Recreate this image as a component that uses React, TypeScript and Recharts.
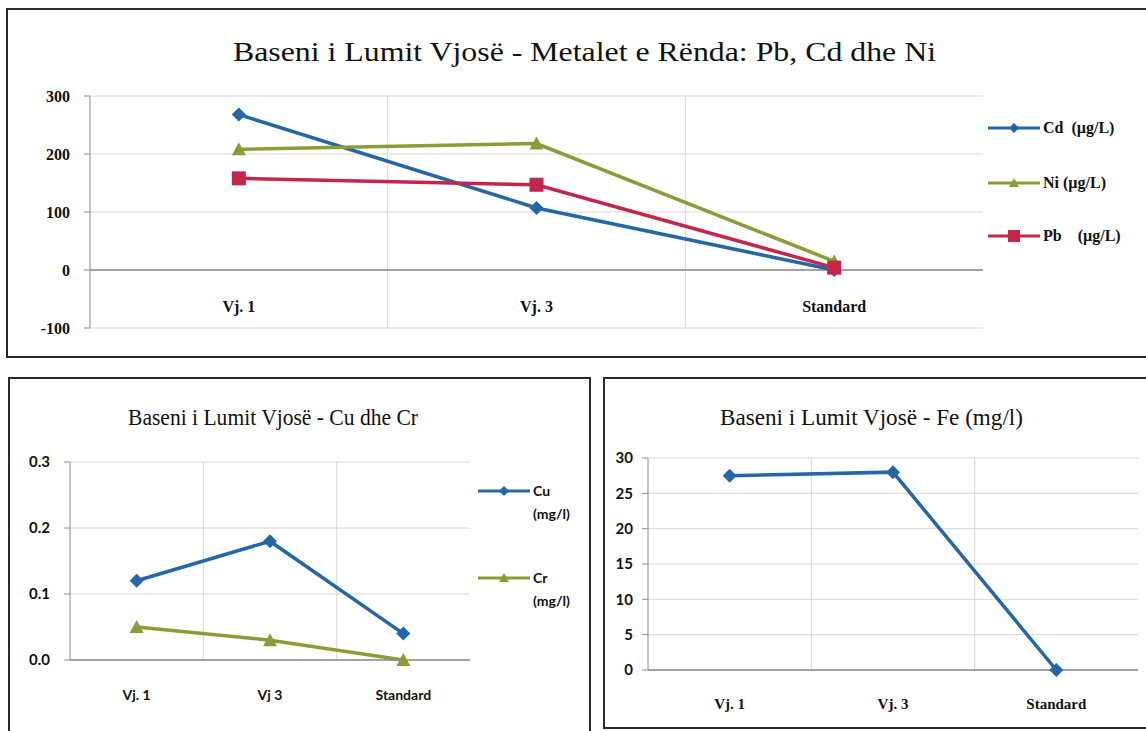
import React from 'react';
import { LineChart, Line, XAxis, YAxis, CartesianGrid, ReferenceLine } from 'recharts';

// heavy metals (µg/L)
const stations = ['Vj. 1', 'Vj. 3', 'Standard'];
const cdValues = [268, 107, 0];
const niValues = [208, 218, 15];
const pbValues = [158, 147, 4];
const metalTicks = [-100, 0, 100, 200, 300];

// Cu / Cr (mg/l)
const cuStations = ['Vj. 1', 'Vj 3', 'Standard'];
const cuValues = [0.12, 0.18, 0.04];
const crValues = [0.05, 0.03, 0.0];
const cuTicks = [0, 0.1, 0.2, 0.3];

// Fe (mg/l)
const feStations = ['Vj. 1', 'Vj. 3', 'Standard'];
const feValues = [27.5, 28, 0];
const feTicks = [0, 5, 10, 15, 20, 25, 30];

const BLUE = '#2466a6';
const GREEN = '#8a9c36';
const RED = '#c2274b';
const GRID = '#d6d6d6';
const AXIS = '#8a8a8a';
const SERIF = '"Liberation Serif", "Times New Roman", serif';
const SANS = 'Lato, "Open Sans", sans-serif';

const metalData = stations.map((s, i) => ({ name: s, cd: cdValues[i], ni: niValues[i], pb: pbValues[i] }));
const cuData = cuStations.map((s, i) => ({ name: s, cu: cuValues[i], cr: crValues[i] }));
const feData = feStations.map((s, i) => ({ name: s, fe: feValues[i] }));

const diamond = (color: string, r = 6) => (props: any) => {
  const { cx, cy, key } = props;
  if (cx == null || cy == null) return null;
  return <path key={key} d={`M${cx},${cy - r}L${cx + r},${cy}L${cx},${cy + r}L${cx - r},${cy}Z`} fill={color} />;
};
const triangle = (color: string, r = 6) => (props: any) => {
  const { cx, cy, key } = props;
  if (cx == null || cy == null) return null;
  return <path key={key} d={`M${cx},${cy - r}L${cx + r},${cy + r - 1}L${cx - r},${cy + r - 1}Z`} fill={color} />;
};
const square = (color: string, r = 6) => (props: any) => {
  const { cx, cy, key } = props;
  if (cx == null || cy == null) return null;
  return <rect key={key} x={cx - r} y={cy - r} width={r * 2} height={r * 2} fill={color} />;
};

const betweenCategories = ({ offset }: any) => [offset.left + offset.width / 3, offset.left + (2 * offset.width) / 3];

const xTick = (dy: number, font: string, size: number) => (props: any) => {
  const { x, y, payload } = props;
  return (
    <text x={x} y={y + dy} textAnchor="middle" fontFamily={font} fontWeight="bold" fontSize={size} fill="#111">
      {payload.value}
    </text>
  );
};

const panel = (left: number, top: number, width: number, height: number): React.CSSProperties => ({
  position: 'absolute',
  left,
  top,
  width,
  height,
  border: '2px solid #2a2a2a',
  boxSizing: 'border-box',
});

function LegendItem({ x, y, color, marker, font, lines }: any) {
  const m = marker === 'diamond' ? diamond(color, 5) : marker === 'triangle' ? triangle(color, 5) : square(color, 6);
  return (
    <g>
      <line x1={x} y1={y} x2={x + 52} y2={y} stroke={color} strokeWidth={3} />
      {m({ cx: x + 26, cy: y })}
      {lines.map((t: string, i: number) => (
        <text key={i} x={x + 55} y={y + 5 + i * 23} fontFamily={font} fontWeight="bold" fontSize={16} fill="#111" style={{ whiteSpace: 'pre' }}>
          {t}
        </text>
      ))}
    </g>
  );
}

export default function App() {
  return (
    <div style={{ position: 'absolute', left: 0, top: 0, width: 1146, height: 731, background: '#fff', overflow: 'hidden' }}>
      <div style={panel(6, 8, 1150, 350)} />
      <div style={panel(8, 377, 583, 360)} />
      <div style={panel(603, 377, 560, 352)} />

      {/* top: Pb, Cd, Ni */}
      <div style={{ position: 'absolute', left: 0, top: 80 }}>
        <LineChart width={1146} height={259} data={metalData} margin={{ top: 16, right: 163, left: 30, bottom: 10 }}>
          <CartesianGrid stroke={GRID} verticalCoordinatesGenerator={betweenCategories} />
          <XAxis dataKey="name" scale="band" height={1} axisLine={false} tickLine={false} tickSize={0} tick={xTick(-18, SERIF, 16)} />
          <YAxis
            width={60}
            domain={[-100, 300]}
            ticks={metalTicks}
            axisLine={{ stroke: AXIS }}
            tickLine={{ stroke: AXIS }}
            tickMargin={14}
            tick={{ fontFamily: SERIF, fontWeight: 'bold', fontSize: 16, fill: '#111' }}
            interval={0}
          />
          <ReferenceLine y={0} stroke={AXIS} strokeWidth={1.5} />
          <Line dataKey="cd" stroke={BLUE} strokeWidth={3.5} dot={diamond(BLUE, 7)} isAnimationActive={false} />
          <Line dataKey="ni" stroke={GREEN} strokeWidth={3.5} dot={triangle(GREEN, 7)} isAnimationActive={false} />
          <Line dataKey="pb" stroke={RED} strokeWidth={3.5} dot={square(RED, 7)} isAnimationActive={false} />
        </LineChart>
      </div>

      {/* bottom left: Cu, Cr */}
      <div style={{ position: 'absolute', left: 8, top: 440 }}>
        <LineChart width={582} height={278} data={cuData} margin={{ top: 22, right: 120, left: 0, bottom: 20 }}>
          <CartesianGrid stroke={GRID} verticalCoordinatesGenerator={betweenCategories} />
          <XAxis dataKey="name" scale="band" height={38} axisLine={{ stroke: AXIS, strokeWidth: 1.5 }} tickLine={false} tickSize={0} tick={xTick(38, SANS, 14)} />
          <YAxis
            width={62}
            domain={[0, 0.3]}
            ticks={cuTicks}
            axisLine={{ stroke: AXIS }}
            tickLine={{ stroke: AXIS }}
            tickMargin={14}
            tickFormatter={(v: number) => v.toFixed(1)}
            tick={{ fontFamily: SANS, fontWeight: 'bold', fontSize: 15, fill: '#111' }}
            interval={0}
          />
          <Line dataKey="cu" stroke={BLUE} strokeWidth={3.5} dot={diamond(BLUE, 7)} isAnimationActive={false} />
          <Line dataKey="cr" stroke={GREEN} strokeWidth={3.5} dot={triangle(GREEN, 7)} isAnimationActive={false} />
        </LineChart>
      </div>

      {/* bottom right: Fe */}
      <div style={{ position: 'absolute', left: 602, top: 440 }}>
        <LineChart width={544} height={285} data={feData} margin={{ top: 18, right: 8, left: 0, bottom: 15 }}>
          <CartesianGrid stroke={GRID} verticalCoordinatesGenerator={betweenCategories} />
          <XAxis dataKey="name" scale="band" height={40} axisLine={{ stroke: AXIS, strokeWidth: 1.5 }} tickLine={false} tickSize={0} tick={xTick(37, SERIF, 15)} />
          <YAxis
            width={46}
            domain={[0, 30]}
            ticks={feTicks}
            axisLine={{ stroke: AXIS }}
            tickLine={{ stroke: AXIS }}
            tickMargin={9}
            tick={{ fontFamily: SANS, fontWeight: 'bold', fontSize: 15, fill: '#111' }}
            interval={0}
          />
          <Line dataKey="fe" stroke={BLUE} strokeWidth={3.5} dot={diamond(BLUE, 7)} isAnimationActive={false} />
        </LineChart>
      </div>

      {/* titles and legends */}
      <svg width={1146} height={731} style={{ position: 'absolute', left: 0, top: 0, pointerEvents: 'none' }}>
        <text x={233} y={61} fontFamily={SERIF} fontSize={27} fill="#111" textLength={703} lengthAdjust="spacingAndGlyphs">
          Baseni i Lumit Vjosë - Metalet e Rënda: Pb, Cd dhe Ni
        </text>
        <text x={128} y={425} fontFamily={SERIF} fontSize={23} fill="#111" textLength={290} lengthAdjust="spacingAndGlyphs">
          Baseni i Lumit Vjosë - Cu dhe Cr
        </text>
        <text x={720} y={425} fontFamily={SERIF} fontSize={23} fill="#111" textLength={303} lengthAdjust="spacingAndGlyphs">
          Baseni i Lumit Vjosë - Fe (mg/l)
        </text>

        <LegendItem x={988} y={128} color={BLUE} marker="diamond" font={SERIF} lines={['Cd  (µg/L)']} />
        <LegendItem x={988} y={183} color={GREEN} marker="triangle" font={SERIF} lines={['Ni (µg/L)']} />
        <LegendItem x={988} y={236} color={RED} marker="square" font={SERIF} lines={['Pb    (µg/L)']} />

        <g transform="translate(-20,0)">
          <LegendItem x={498} y={491} color={BLUE} marker="diamond" font={SANS} lines={[]} />
          <LegendItem x={498} y={578} color={GREEN} marker="triangle" font={SANS} lines={[]} />
        </g>
        <text x={533} y={496} fontFamily={SANS} fontWeight="bold" fontSize={14} fill="#111">Cu</text>
        <text x={533} y={519} fontFamily={SANS} fontWeight="bold" fontSize={14} fill="#111">(mg/l)</text>
        <text x={533} y={583} fontFamily={SANS} fontWeight="bold" fontSize={14} fill="#111">Cr</text>
        <text x={533} y={606} fontFamily={SANS} fontWeight="bold" fontSize={14} fill="#111">(mg/l)</text>
      </svg>
    </div>
  );
}
